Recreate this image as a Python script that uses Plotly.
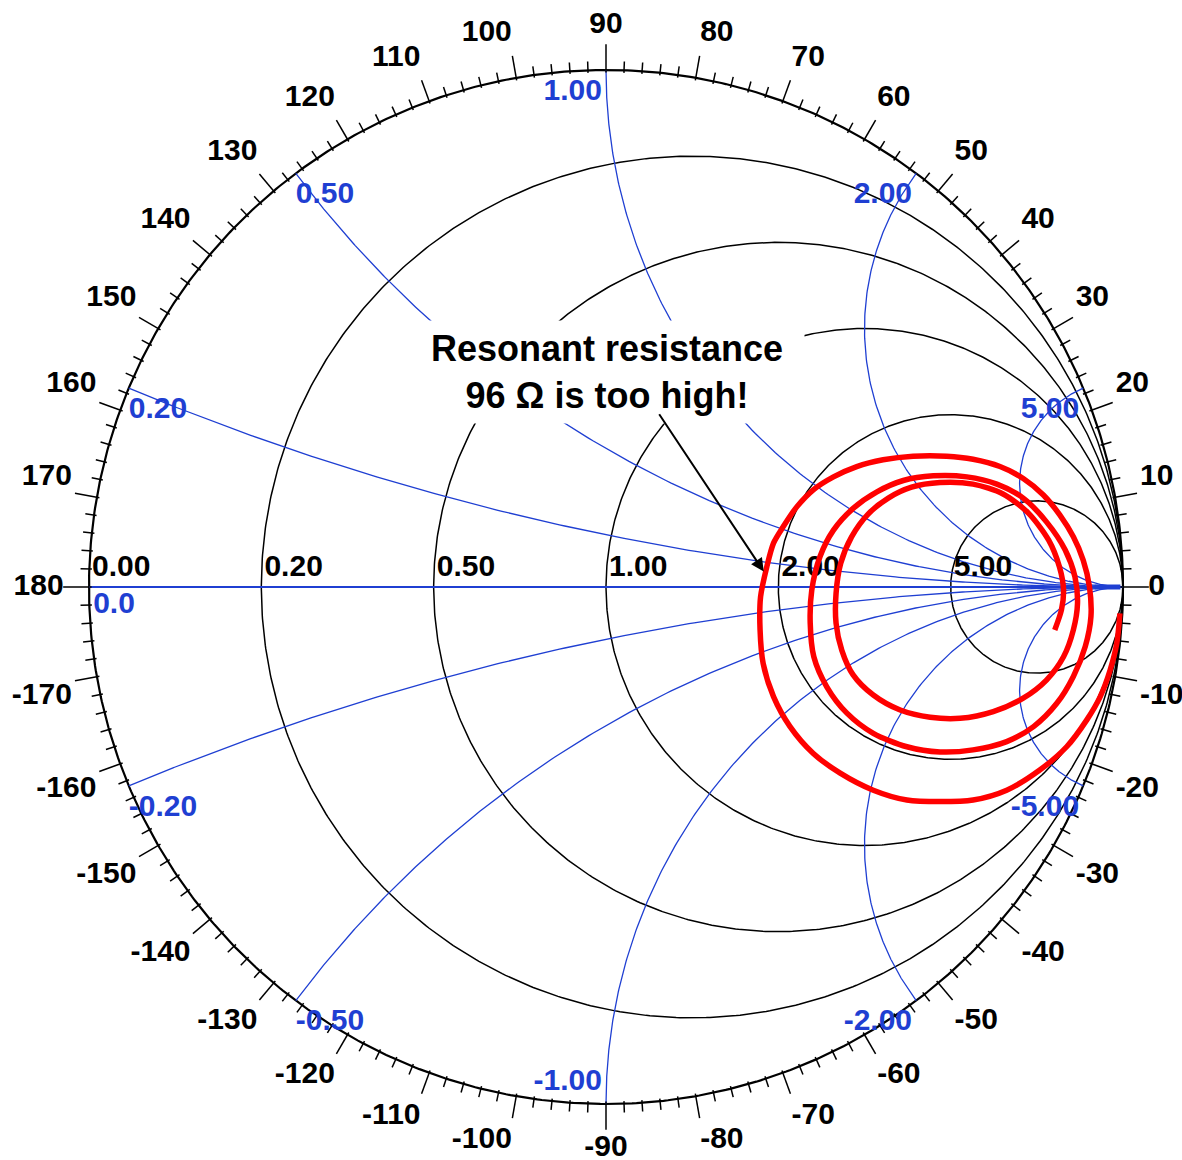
import numpy as np
import plotly.graph_objects as go

# ---------------- data ----------------
resistance_values = [0.0, 0.2, 0.5, 1.0, 2.0, 5.0]
resistance_labels = ["0.00", "0.20", "0.50", "1.00", "2.00", "5.00"]
reactance_values = [0.2, 0.5, 1.0, 2.0, 5.0, -0.2, -0.5, -1.0, -2.0, -5.0]
reactance_labels = ["0.20", "0.50", "1.00", "2.00", "5.00",
                    "-0.20", "-0.50", "-1.00", "-2.00", "-5.00"]
angle_values = list(range(-170, 181, 10))
angle_labels = [str(a) for a in angle_values]

# measured impedance locus (reflection coefficient, real / imaginary)
locus_re = [0.994, 0.988, 0.975, 0.956, 0.930, 0.891, 0.839, 0.775, 0.710, 0.646,
            0.582, 0.517, 0.453, 0.401, 0.356, 0.324, 0.304, 0.298, 0.299, 0.311,
            0.324, 0.343, 0.369, 0.401, 0.440, 0.485, 0.536, 0.594, 0.659, 0.710,
            0.762, 0.807, 0.846, 0.878, 0.904, 0.923, 0.935, 0.938, 0.927, 0.904,
            0.872, 0.827, 0.775, 0.710, 0.646, 0.582, 0.517, 0.466, 0.427, 0.402,
            0.395, 0.398, 0.414, 0.440, 0.478, 0.524, 0.575, 0.633, 0.698, 0.756,
            0.807, 0.852, 0.888, 0.907, 0.912, 0.904, 0.885, 0.852, 0.807, 0.749,
            0.685, 0.627, 0.569, 0.517, 0.478, 0.456, 0.445, 0.445, 0.454, 0.475,
            0.507, 0.546, 0.591, 0.646, 0.710, 0.768, 0.817, 0.856, 0.877, 0.885,
            0.881, 0.868]
locus_im = [-0.051, -0.109, -0.161, -0.212, -0.257, -0.309, -0.354, -0.393, -0.412, -0.415,
            -0.412, -0.393, -0.360, -0.322, -0.270, -0.212, -0.148, -0.083, -0.019, 0.039,
            0.085, 0.117, 0.155, 0.188, 0.213, 0.233, 0.246, 0.253, 0.253, 0.247,
            0.233, 0.210, 0.178, 0.139, 0.097, 0.052, 0.001, -0.057, -0.115, -0.173,
            -0.225, -0.270, -0.299, -0.315, -0.319, -0.309, -0.283, -0.244, -0.193, -0.135,
            -0.070, -0.006, 0.059, 0.110, 0.152, 0.184, 0.206, 0.215, 0.213, 0.199,
            0.172, 0.126, 0.072, 0.020, -0.032, -0.083, -0.135, -0.180, -0.215, -0.241,
            -0.254, -0.252, -0.238, -0.209, -0.170, -0.122, -0.070, -0.012, 0.046, 0.097,
            0.141, 0.172, 0.193, 0.202, 0.199, 0.180, 0.143, 0.091, 0.039, -0.006,
            -0.044, -0.083]

resonant_r = 96 / 50.0  # normalised resonant resistance
note_text = "Resonant resistance<br>96 \u03a9 is too high!"

# ---------------- styling ----------------
BLUE = "#1f3fd2"
FONT = "Liberation Sans, Arial, sans-serif"
LAB = 30

fig = go.Figure()

def gamma(z):
    return (z - 1) / (z + 1)

# resistance circles
t = np.linspace(0, 2 * np.pi, 720)
for r in resistance_values:
    c = r / (1 + r)
    rad = 1 / (1 + r)
    fig.add_trace(go.Scatter(x=c + rad * np.cos(t), y=rad * np.sin(t), mode="lines",
                             line=dict(color="black", width=2.2 if r == 0 else 1.5),
                             hoverinfo="skip", showlegend=False))

# reactance arcs
rr = np.concatenate([[0.0], np.logspace(-3, 4.5, 800)])
for xv in reactance_values:
    g = gamma(rr + 1j * xv)
    fig.add_trace(go.Scatter(x=g.real, y=g.imag, mode="lines",
                             line=dict(color=BLUE, width=1.3),
                             hoverinfo="skip", showlegend=False))

# real axis
fig.add_trace(go.Scatter(x=[-1, 1], y=[0, 0], mode="lines",
                         line=dict(color=BLUE, width=2), hoverinfo="skip", showlegend=False))
fig.add_trace(go.Scatter(x=[0.945, 0.995], y=[0, 0], mode="lines",
                         line=dict(color=BLUE, width=5), hoverinfo="skip", showlegend=False))

# angle ticks
tx, ty = [], []
for a in range(0, 360, 2):
    th = np.deg2rad(a)
    outer = 1.043 if a % 10 == 0 else 1.017
    if a in (0, 180, 90, 270):
        outer = 1.05
    tx += [0.995 * np.cos(th), outer * np.cos(th), None]
    ty += [0.995 * np.sin(th), outer * np.sin(th), None]
fig.add_trace(go.Scatter(x=tx, y=ty, mode="lines", line=dict(color="black", width=1.5),
                         hoverinfo="skip", showlegend=False))

# angle labels
Rx_lab, Ry_lab = 1.049, 1.058
ax_, ay_, apos = [], [], []
for a in angle_values:
    th = np.deg2rad(a)
    c, s = np.cos(th), np.sin(th)
    h = "right" if c > 0.1 else ("left" if c < -0.1 else "center")
    v = "top" if s > 0.1 else ("bottom" if s < -0.1 else "middle")
    ax_.append(Rx_lab * c)
    ay_.append(Ry_lab * s)
    apos.append(f"{v} {h}")
fig.add_trace(go.Scatter(x=ax_, y=ay_, mode="text", text=angle_labels, textposition=apos,
                         textfont=dict(family=FONT, size=LAB, color="black", weight="bold"),
                         hoverinfo="skip", showlegend=False))

# resistance labels (on the real axis)
rx = [gamma(r) + 0.006 for r in resistance_values]
fig.add_trace(go.Scatter(x=rx, y=[0.006] * len(rx), mode="text", text=resistance_labels,
                         textposition="top right",
                         textfont=dict(family=FONT, size=LAB, color="black", weight="bold"),
                         hoverinfo="skip", showlegend=False))
fig.add_trace(go.Scatter(x=[-0.992], y=[-0.006], mode="text", text=["0.0"],
                         textposition="bottom right",
                         textfont=dict(family=FONT, size=LAB, color=BLUE, weight="bold"),
                         hoverinfo="skip", showlegend=False))

# reactance labels at the outer ends of the arcs
bx, by, bpos = [], [], []
for xv in reactance_values:
    g = gamma(1j * xv)
    h = "right" if abs(xv) < 1 else "left"
    v = "top" if xv == -1 else "bottom"
    bx.append(g.real + (0.0 if abs(xv) < 1 else -0.008))
    by.append(g.imag + (0.012 if xv == -1 else -0.014))
    bpos.append(f"{v} {h}")
fig.add_trace(go.Scatter(x=bx, y=by, mode="text", text=reactance_labels, textposition=bpos,
                         textfont=dict(family=FONT, size=LAB, color=BLUE, weight="bold"),
                         hoverinfo="skip", showlegend=False))

# measured locus
fig.add_trace(go.Scatter(x=locus_re, y=locus_im, mode="lines",
                         line=dict(color="#ff0000", width=5.5, shape="spline", smoothing=0.8),
                         hoverinfo="skip", showlegend=False))

# annotation box and arrow
fig.add_annotation(x=0.002, y=0.416, xref="x", yref="y", text=note_text, showarrow=False,
                   font=dict(family=FONT, size=36, color="black", weight="bold"),
                   bgcolor="white", width=392, height=100, align="center")
g_res = gamma(resonant_r)
fig.add_annotation(x=g_res - 0.01, y=0.03, xref="x", yref="y", ax=0.101, ay=0.337,
                   axref="x", ayref="y", text="", showarrow=True, arrowhead=2,
                   arrowsize=1.3, arrowwidth=2, arrowcolor="black", standoff=0)

s = 517.0
fig.update_layout(
    width=1182, height=1160,
    margin=dict(l=0, r=0, t=0, b=0),
    paper_bgcolor="white", plot_bgcolor="white",
    xaxis=dict(range=[-606 / s, (1182 - 606) / s], visible=False, fixedrange=True),
    yaxis=dict(range=[-(1160 - 587) / s, 587 / s], visible=False, fixedrange=True),
    showlegend=False,
)

fig.write_html("out.html", config={"displayModeBar": False},
               post_script="document.body.style.margin='0px';document.body.style.overflow='hidden';")
